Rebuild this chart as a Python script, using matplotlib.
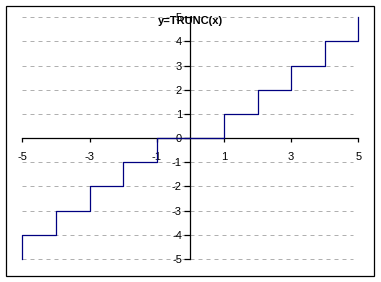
import matplotlib
matplotlib.use("Agg")
import matplotlib.pyplot as plt
from matplotlib.patches import Rectangle

# step vertices of y=TRUNC(x) on [-5, 5]
step_x = [-5, -5, -4, -4, -3, -3, -2, -2, -1, -1, 1, 1, 2, 2, 3, 3, 4, 4, 5, 5]
step_y = [-5, -4, -4, -3, -3, -2, -2, -1, -1, 0, 0, 1, 1, 2, 2, 3, 3, 4, 4, 5]

x_ticks = [-5, -3, -1, 1, 3, 5]
y_ticks = [-5, -4, -3, -2, -1, 0, 1, 2, 3, 4, 5]
grid_y = [-5, -4, -3, -2, -1, 1, 2, 3, 4, 5]
title = "y=TRUNC(x)"

plt.rcParams['font.family'] = ['Liberation Sans', 'DejaVu Sans']
plt.rcParams['font.size'] = 8

W, H = 381, 282
fig = plt.figure(figsize=(W / 100, H / 100), dpi=100)
ax = fig.add_axes([22.3 / W, 1 - 259 / H, 336 / W, 241.7 / H])
ax.set_xlim(-5, 5)
ax.set_ylim(-5, 5)
ax.patch.set_visible(False)

# dashed grey gridlines
for gy in grid_y:
    ln, = ax.plot([-5, 4.85], [gy, gy], color='#b0b0b0', lw=0.72, zorder=1,
                  clip_on=False)
    ln.set_dashes((4, 4))

ax.plot(step_x, step_y, color='#000080', lw=0.9, zorder=3, clip_on=False)

# axes crossing at origin
for s in ['top', 'right']:
    ax.spines[s].set_visible(False)
ax.spines['left'].set_position(('data', 0))
ax.spines['bottom'].set_position(('data', 0))
ax.spines['left'].set_linewidth(0.9)
ax.spines['bottom'].set_linewidth(0.9)
ax.spines['left'].set_zorder(2)
ax.spines['bottom'].set_zorder(2)

ax.set_xticks(x_ticks)
ax.set_yticks(y_ticks)
ax.set_xticklabels([str(v) for v in x_ticks])
ax.set_yticklabels([str(v) for v in y_ticks])
ax.tick_params(axis='x', direction='out', length=3, width=0.9, pad=7)
ax.tick_params(axis='y', direction='out', length=4, width=0.9, pad=2)

fig.text(190 / W, 1 - 21 / H, title, ha='center', va='center',
         fontweight='bold', fontsize=8)

# outer chart border
fig.patches.append(Rectangle((5.5 / W, 1 - 276 / H), 368 / W, 270.5 / H,
                             transform=fig.transFigure, fill=False,
                             edgecolor='black', lw=0.9))

fig.savefig('out.png', dpi=100)
